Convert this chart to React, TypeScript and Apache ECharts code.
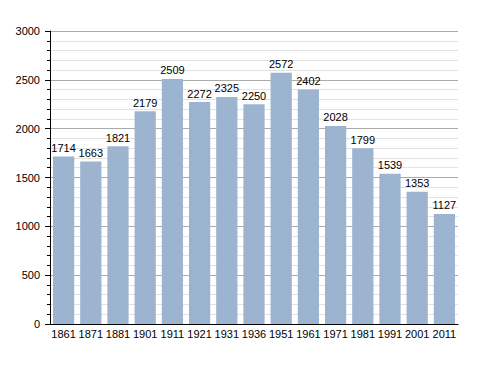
import React, { useEffect, useRef } from "react";
import * as echarts from "echarts";

const years = ["1861", "1871", "1881", "1901", "1911", "1921", "1931", "1936", "1951", "1961", "1971", "1981", "1991", "2001", "2011"];
const population = [1714, 1663, 1821, 2179, 2509, 2272, 2325, 2250, 2572, 2402, 2028, 1799, 1539, 1353, 1127];

export default function App() {
  const ref = useRef<HTMLDivElement>(null);
  useEffect(() => {
    const chart = echarts.init(ref.current!, null, { renderer: "svg" });
    chart.setOption({
      animation: false,
      grid: { left: 50, right: 30, top: 31, bottom: 49 },
      xAxis: {
        type: "category",
        data: years,
        axisLine: { lineStyle: { color: "#000", width: 1 } },
        axisTick: { show: false },
        axisLabel: { color: "#000", fontFamily: "Liberation Sans", fontSize: 11, margin: 4, interval: 0 },
      },
      yAxis: {
        type: "value",
        min: 0,
        max: 3000,
        interval: 500,
        axisLine: { show: true, lineStyle: { color: "#000", width: 1 } },
        axisTick: { show: true, length: 5, lineStyle: { color: "#000" } },
        minorTick: { show: true, splitNumber: 5, length: 3, lineStyle: { color: "#000" } },
        splitLine: { show: true, lineStyle: { color: "#aaaaaa", width: 1 } },
        minorSplitLine: { show: true, lineStyle: { color: "#e2e2e2", width: 1 } },
        axisLabel: {
          color: "#000",
          fontFamily: "Liberation Sans",
          fontSize: 11,
          margin: 10,
          formatter: (v: number) => String(v),
        },
      },
      series: [
        {
          type: "bar",
          data: population,
          barCategoryGap: "22%",
          itemStyle: { color: "#9cb4cf" },
          label: {
            show: true,
            position: "top",
            distance: 3,
            color: "#000",
            fontFamily: "Liberation Sans",
            fontSize: 11,
          },
        },
      ],
    });
    return () => chart.dispose();
  }, []);
  return <div ref={ref} style={{ width: 488, height: 373, position: "absolute", left: 0, top: 0, background: "#fff" }} />;
}
